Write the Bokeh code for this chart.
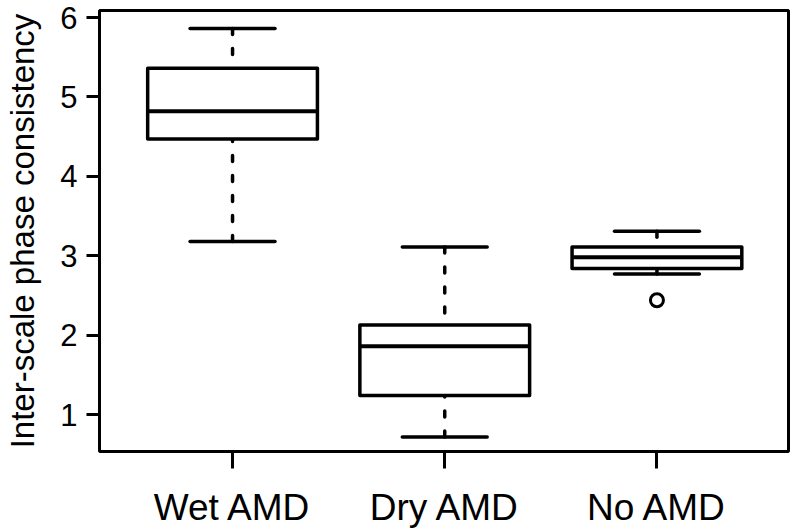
from bokeh.plotting import figure
from bokeh.models import Range1d, FixedTicker, ColumnDataSource
from bokeh.embed import file_html
from bokeh.resources import INLINE

categories = ["Wet AMD", "Dry AMD", "No AMD"]
positions = [1, 2, 3]
lower_whisker = [3.18, 0.72, 2.77]
q1 = [4.47, 1.24, 2.84]
median = [4.82, 1.86, 2.98]
q3 = [5.36, 2.13, 3.11]
upper_whisker = [5.86, 3.11, 3.31]
outlier_x = [3]
outlier_y = [2.44]
y_ticks = [1, 2, 3, 4, 5, 6]

FONT = "Liberation Sans"
BOX_W = 0.8
CAP_W = 0.4

p = figure(width=790, height=530, output_backend="svg", toolbar_location=None,
           x_range=Range1d(0.373, 3.62), y_range=Range1d(0.536, 6.088),
           min_border_left=99, min_border_right=2, min_border_top=10, min_border_bottom=77)

p.xgrid.visible = False
p.ygrid.visible = False
p.outline_line_color = "black"
p.outline_line_width = 3
p.background_fill_color = "white"
p.border_fill_color = "white"

src = ColumnDataSource(dict(
    x=positions,
    left=[v - BOX_W / 2 for v in positions],
    right=[v + BOX_W / 2 for v in positions],
    cl=[v - CAP_W / 2 for v in positions],
    cr=[v + CAP_W / 2 for v in positions],
    lw=lower_whisker, q1=q1, med=median, q3=q3, uw=upper_whisker,
))

# whiskers (dotted)
p.segment(x0="x", y0="uw", x1="x", y1="q3", source=src, line_color="black",
          line_width=3.5, line_dash="6 14", line_cap="round")
p.segment(x0="x", y0="lw", x1="x", y1="q1", source=src, line_color="black",
          line_width=3.5, line_dash="6 14", line_cap="round")
# caps
p.segment(x0="cl", y0="uw", x1="cr", y1="uw", source=src, line_color="black",
          line_width=3.5, line_cap="round")
p.segment(x0="cl", y0="lw", x1="cr", y1="lw", source=src, line_color="black",
          line_width=3.5, line_cap="round")
# boxes
p.quad(left="left", right="right", bottom="q1", top="q3", source=src,
       fill_color="white", line_color="black", line_width=3.5, line_join="round")
# medians
p.segment(x0="left", y0="med", x1="right", y1="med", source=src, line_color="black",
          line_width=4)
# outliers
p.scatter(outlier_x, outlier_y, marker="circle", size=13, fill_color="white",
          line_color="black", line_width=3)

# axes
p.xaxis.ticker = FixedTicker(ticks=positions)
p.xaxis.major_label_overrides = {pos: c for pos, c in zip(positions, categories)}
p.yaxis.ticker = FixedTicker(ticks=y_ticks)
for ax in (p.xaxis[0], p.yaxis[0]):
    ax.axis_line_color = None
    ax.minor_tick_line_color = None
    ax.major_tick_line_color = "black"
    ax.major_tick_line_width = 3
    ax.major_tick_in = 0
    ax.major_label_text_font = FONT
    ax.major_label_text_color = "black"
    ax.axis_label_text_font = FONT
    ax.axis_label_text_color = "black"
    ax.axis_label_text_font_style = "normal"

p.xaxis.major_tick_out = 17
p.yaxis.major_tick_out = 13
p.xaxis.major_label_text_font_size = "37px"
p.yaxis.major_label_text_font_size = "31px"
p.xaxis.major_label_standoff = 18
p.yaxis.major_label_standoff = 9
p.yaxis.axis_label = "Inter-scale phase consistency"
p.yaxis.axis_label_text_font_size = "33px"
p.yaxis.axis_label_standoff = 16

open("out.html", "w").write(file_html(p, INLINE))
